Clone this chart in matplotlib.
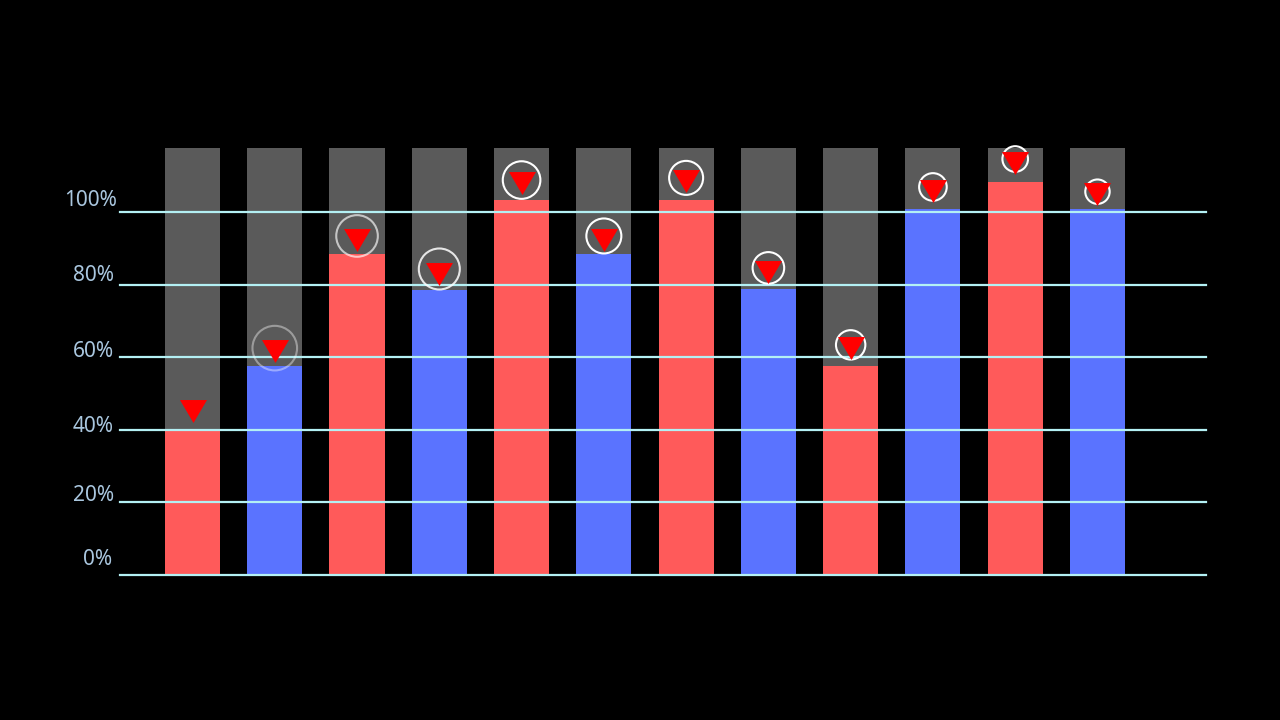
import matplotlib
matplotlib.use("Agg")
import matplotlib.pyplot as plt
from matplotlib.path import Path
import numpy as np

# ---- data ----
bar_values = [40.0, 57.6, 88.4, 78.5, 103.3, 88.4, 103.3, 78.8, 57.6, 100.8, 108.4, 100.8]
bar_kinds = ["red", "blue", "red", "blue", "red", "blue", "red", "blue", "red", "blue", "red", "blue"]
track_max = 117.6
marker_values = [45.2, 61.6, 92.3, 83.0, 107.9, 92.3, 108.5, 83.6, 62.4, 105.8, 113.6, 105.0]
ring_values = [None, 62.5, 93.4, 84.3, 108.8, 93.4, 109.4, 84.6, 63.4, 106.9, 114.6, 105.6]
ring_radius_px = [0, 22.3, 20.8, 20.5, 18.8, 17.5, 17.0, 15.8, 14.7, 13.8, 12.8, 12.2]
ring_alpha = [0, 0.4, 0.65, 0.85, 1, 1, 1, 1, 1, 1, 1, 1]
grid_values = [0, 20, 40, 60, 80, 100]
tick_labels = ["0%", "20%", "40%", "60%", "80%", "100%"]
label_positions = [4.3, 22.0, 40.9, 61.6, 82.6, 103.3]
label_gap_px = [8, 6, 6, 6, 6, 3]

# ---- styles ----
palette = {"red": "#ff5a5a", "blue": "#5a73ff"}
track_color = "#5a5a5a"
grid_color = "#b4f0f4"
label_color = "#a9c6de"

W, H, DPI = 1280, 720, 100
fig = plt.figure(figsize=(W / DPI, H / DPI), dpi=DPI, facecolor="black")
ax_left, ax_right = 120, 1206
ax_bottom_px = 575
ymax = 120
px_per_unit = 3.63
ax = fig.add_axes([ax_left / W, (H - ax_bottom_px) / H, (ax_right - ax_left) / W,
                   ymax * px_per_unit / H])
ax.set_facecolor("black")

x = np.arange(len(bar_values))
step_px = 82.27
first_center_px = 192.5
ax.set_xlim((ax_left - first_center_px) / step_px, (ax_right - first_center_px) / step_px)
ax.set_ylim(0, ymax)

width = 0.67
ax.bar(x, [track_max] * len(x), width=width, color=track_color, zorder=1)
ax.bar(x, bar_values, width=width, color=[palette[k] for k in bar_kinds], zorder=2)

for g in grid_values:
    ax.axhline(g, color=grid_color, lw=1.6, zorder=3, clip_on=False)

px2pt = 72 / DPI
for xi, rv, r, a in zip(x, ring_values, ring_radius_px, ring_alpha):
    if rv is None or r <= 0:
        continue
    d = 2 * r * px2pt
    ax.scatter([xi], [rv], s=d ** 2, facecolors="none", edgecolors="white",
               linewidths=1.5, alpha=a, zorder=4, clip_on=False)

tri = Path([(-1.0, 0.85), (1.0, 0.85), (0.0, -0.85), (-1.0, 0.85)],
           [Path.MOVETO, Path.LINETO, Path.LINETO, Path.CLOSEPOLY])
ax.scatter(x, marker_values, marker=tri, s=(27 * px2pt) ** 2, color="#ff0000",
           linewidths=0, zorder=5, clip_on=False)

for lab, ly, gap in zip(tick_labels, label_positions, label_gap_px):
    ax.annotate(lab, xy=(0, ly), xycoords=("axes fraction", "data"),
                xytext=(-gap * px2pt, 0), textcoords="offset points",
                ha="right", va="center", color=label_color, fontsize=15,
                family=["Noto Sans", "DejaVu Sans"])

for s in ax.spines.values():
    s.set_visible(False)
ax.set_xticks([])
ax.set_yticks([])

fig.savefig("out.png", dpi=DPI, facecolor="black")
